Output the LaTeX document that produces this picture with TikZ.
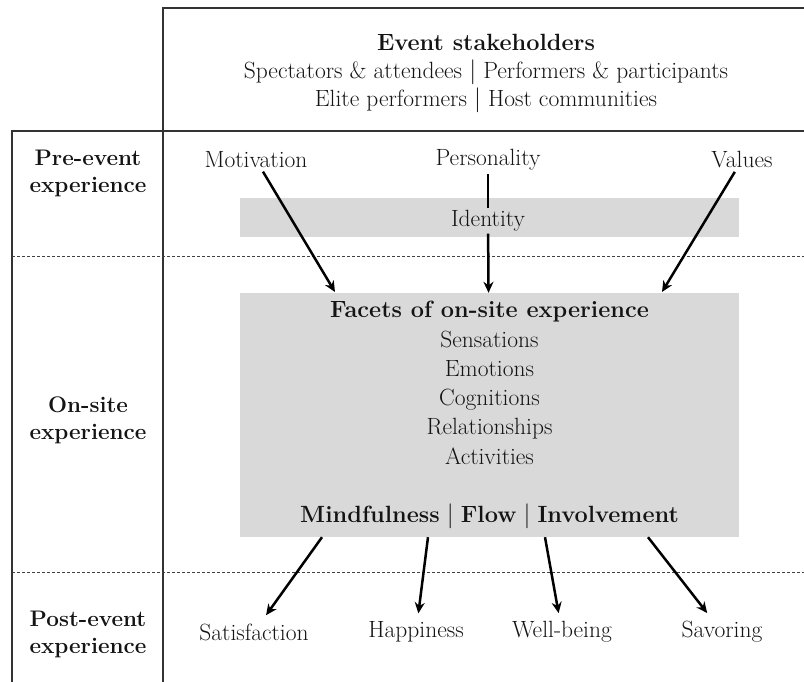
\documentclass[tikz,border=0pt]{standalone}
\usetikzlibrary{positioning,arrows.meta}

\begin{document}
\begin{tikzpicture}[x=1pt,y=-1pt,>={Stealth[length=11pt,width=10pt]}]
  \tikzset{
    every node/.style={font=\fontsize{23.5}{29.3}\selectfont, text=black!92},
    rule/.style={line width=1.4pt, black!80},
    sep/.style={line width=1pt, dash pattern=on 3pt off 2pt, black!75},
    band/.style={fill=black!15, draw=none, inner sep=0pt},
    phase/.style={align=center, font=\fontsize{22.5}{27}\selectfont\bfseries},
    flow/.style={->, line width=2.5pt, black},
    outcome/.style={outer sep=5pt}
  }
  \useasboundingbox (0,0) rectangle (804,682);

  % frame
  \draw[rule] (163,682) -- (163,8) -- (804,8);
  \draw[rule] (12,682) -- (12,131) -- (804,131);
  \draw[sep] (12,256) -- (804,256);
  \draw[sep] (12,572) -- (804,572);

  % stakeholders
  \node (stake) at (486,73) [align=center, font=\fontsize{23.5}{28}\selectfont]
    {\textbf{Event stakeholders}\\
     Spectators \& attendees $|$ Performers \& participants\\
     Elite performers $|$ Host communities};

  % phases
  \node[phase] (pre)  at (88,173) {Pre-event\\experience};
  \node[phase] (on)   at (88,420) {On-site\\experience};
  \node[phase] (post) at (88,634) {Post-event\\experience};

  % gray bands
  \node[band, minimum width=499pt, minimum height=39pt] (idbox) at (489.5,217.5) {};
  \node[band, minimum width=499pt, minimum height=244pt, align=center] (facets) at (489.5,415)
    {\textbf{Facets of on-site experience}\\
     Sensations\\ Emotions\\ Cognitions\\ Relationships\\ Activities\\[29pt]
     \textbf{Mindfulness} $|$ \textbf{Flow} $|$ \textbf{Involvement}};

  % antecedents
  \node (mot)  at (256,160) {Motivation};
  \node (pers) at (488,160) {Personality};
  \node (val)  at (742,160) {Values};
  \node[inner sep=2pt] (idtext) at (488,221) {Identity};

  \coordinate (inmot) at (335,292);
  \coordinate (inval) at (662,292);

  % outcomes
  \node[outcome] (sat)  at (254,632) {Satisfaction};
  \node[outcome] (hap)  at (416,632) {Happiness};
  \node[outcome] (well) at (562,632) {Well-being};
  \node[outcome] (sav)  at (722,632) {Savoring};

  \path
    (mot) edge[flow] (inmot)
    (val) edge[flow] (inval)
    (pers) edge[line width=2.5pt, black] (idtext)
    (idtext) edge[flow] (facets)
    ([xshift=-167.5pt]facets.south) edge[flow] (sat)
    ([xshift=-61.5pt]facets.south) edge[flow] (hap)
    ([xshift=55.5pt]facets.south) edge[flow] (well)
    ([xshift=158.5pt]facets.south) edge[flow] (sav);
\end{tikzpicture}
\end{document}
